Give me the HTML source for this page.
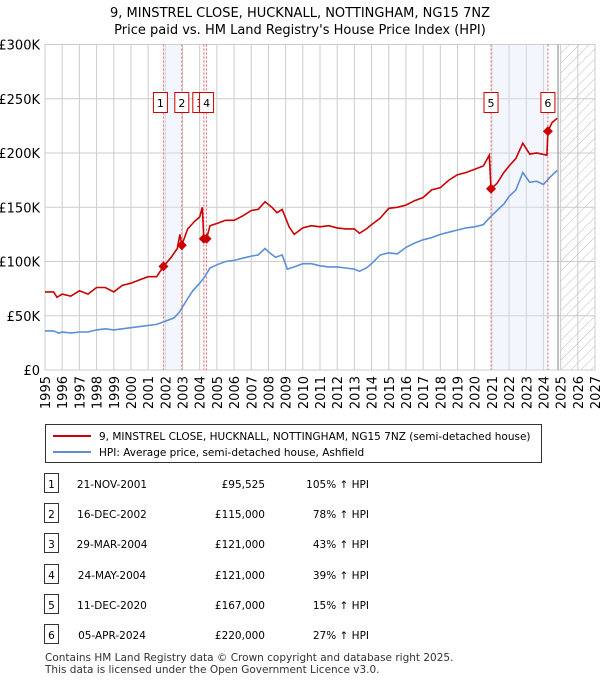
<!DOCTYPE html>
<html><head><meta charset="utf-8">
<style>
body{margin:0;background:#fff;font-family:"Liberation Sans","DejaVu Sans",sans-serif;}
#wrap{position:relative;width:600px;height:680px;overflow:hidden}
svg text{font-family:"DejaVu Sans","Liberation Sans",sans-serif;}
</style></head>
<body>
<div id="wrap">
<svg id="chart" width="600" height="680" viewBox="0 0 600 680">
<defs>
<pattern id="hatch" width="7" height="7" patternUnits="userSpaceOnUse" patternTransform="rotate(45)">
<line x1="0" y1="0" x2="0" y2="7" stroke="#bbb" stroke-width="1"/>
</pattern>
</defs>
<text x="300" y="17" text-anchor="middle" font-size="13">9, MINSTREL CLOSE, HUCKNALL, NOTTINGHAM, NG15 7NZ</text>
<text x="300" y="34" text-anchor="middle" font-size="13">Price paid vs. HM Land Registry's House Price Index (HPI)</text>
<g id="grid"></g>
<g id="shade"></g>
<g id="axes"></g>
<g id="series"></g>
<g id="markers"></g>
<g id="legend">
<rect x="45.5" y="424.5" width="496" height="38" fill="#fff" stroke="#333"/>
<line x1="53" y1="436" x2="91" y2="436" stroke="#cc0000" stroke-width="2"/>
<text x="99" y="440" font-size="10.5">9, MINSTREL CLOSE, HUCKNALL, NOTTINGHAM, NG15 7NZ (semi-detached house)</text>
<line x1="53" y1="452" x2="91" y2="452" stroke="#5b8fd6" stroke-width="2"/>
<text x="99" y="456" font-size="10.5">HPI: Average price, semi-detached house, Ashfield</text>
</g>
<g id="table"></g>
<text x="45" y="661" font-size="10.5" fill="#333">Contains HM Land Registry data © Crown copyright and database right 2025.</text>
<text x="45" y="673" font-size="10.5" fill="#333">This data is licensed under the Open Government Licence v3.0.</text>
</svg>
</div>
<script>
const hpiYears=[1995,1995.5,1995.8,1996,1996.5,1997,1997.5,1998,1998.5,1999,1999.5,2000,2000.5,2001,2001.5,2002,2002.5,2002.8,2003,2003.3,2003.6,2004,2004.3,2004.6,2005,2005.5,2006,2006.5,2007,2007.4,2007.8,2008,2008.4,2008.8,2009.1,2009.5,2010,2010.5,2011,2011.5,2012,2012.5,2013,2013.3,2013.7,2014,2014.5,2015,2015.5,2016,2016.5,2017,2017.5,2018,2018.5,2019,2019.5,2020,2020.5,2020.9,2021.3,2021.7,2022,2022.4,2022.8,2023.2,2023.6,2024,2024.4,2024.8];
const hpiValues=[36,36,34,35,34,35,35,37,38,37,38,39,40,41,42,45,48,53,58,66,73,80,86,94,97,100,101,103,105,106,112,109,104,106,93,95,98,98,96,95,95,94,93,91,94,98,106,108,107,113,117,120,122,125,127,129,131,132,134,141,147,153,160,166,182,173,174,171,178,184];
const priceYears=[1995,1995.5,1995.7,1996,1996.5,1997,1997.5,1998,1998.5,1999,1999.5,2000,2000.5,2001,2001.5,2001.89,2002.3,2002.7,2002.85,2002.96,2003.3,2003.7,2004.0,2004.15,2004.24,2004.4,2004.6,2005,2005.5,2006,2006.5,2007,2007.4,2007.8,2008.2,2008.5,2008.8,2009.2,2009.5,2010,2010.5,2011,2011.5,2012,2012.5,2013,2013.3,2013.7,2014,2014.5,2015,2015.5,2016,2016.5,2017,2017.5,2018,2018.5,2019,2019.5,2020,2020.5,2020.85,2020.95,2021.3,2021.7,2022,2022.4,2022.8,2023.2,2023.6,2024.2,2024.26,2024.5,2024.8];
const priceValues=[72,72,67,70,68,73,70,76,76,72,78,80,83,86,86,95.5,103,112,125,115,130,137,141,150,121,121,133,135,138,138,142,147,148,155,150,145,148,132,125,131,133,132,133,131,130,130,126,130,134,140,149,150,152,156,159,166,168,175,180,182,185,188,198,167,172,182,188,195,209,199,200,198,220,228,232];
const yTicks=[0,50,100,150,200,250,300];
const yTickLabels=["£0","£50K","£100K","£150K","£200K","£250K","£300K"];
const xTicks=[1995,1996,1997,1998,1999,2000,2001,2002,2003,2004,2005,2006,2007,2008,2009,2010,2011,2012,2013,2014,2015,2016,2017,2018,2019,2020,2021,2022,2023,2024,2025,2026,2027];
const saleLabels=["1","2","3","4","5","6"];
const saleYears=[2001.89,2002.96,2004.24,2004.40,2020.95,2024.26];
const salePrices=[95.525,115,121,121,167,220];
const saleDates=["21-NOV-2001","16-DEC-2002","29-MAR-2004","24-MAY-2004","11-DEC-2020","05-APR-2024"];
const salePriceText=["£95,525","£115,000","£121,000","£121,000","£167,000","£220,000"];
const saleHpiText=["105% ↑ HPI","78% ↑ HPI","43% ↑ HPI","39% ↑ HPI","15% ↑ HPI","27% ↑ HPI"];
const shadedPairs=[[0,1],[2,3],[4,5]];

const L=45,R=595,T=44.5,B=370,X0=1995,X1=2027,YMAX=300;
const xs=y=>L+(y-X0)/(X1-X0)*(R-L);
const ys=v=>B-v/YMAX*(B-T);
const NS="http://www.w3.org/2000/svg";
function mk(tag,attrs,parent){const e=document.createElementNS(NS,tag);for(const k in attrs)e.setAttribute(k,attrs[k]);parent.appendChild(e);return e;}
const grid=document.getElementById('grid'),shade=document.getElementById('shade'),axes=document.getElementById('axes'),series=document.getElementById('series'),markers=document.getElementById('markers'),table=document.getElementById('table');

const hatchX=xs(2025);
let hr=mk('rect',{x:hatchX,y:T,width:R-hatchX,height:B-T,fill:'url(#hatch)'},grid);


yTicks.forEach((v,i)=>{
  let l=mk('line',{x1:L,x2:R,y1:ys(v),y2:ys(v),stroke:'#ccc','stroke-width':1},grid);
  
  
  let t=mk('text',{x:L-5,y:ys(v)+5,'text-anchor':'end','font-size':13},axes);
  t.textContent=yTickLabels[i];
  
  
});
xTicks.forEach(y=>{
  let l=mk('line',{x1:xs(y),x2:xs(y),y1:T,y2:B,stroke:'#ccc','stroke-width':1},grid);
  
  
  let t=mk('text',{x:0,y:0,'text-anchor':'end','font-size':13,transform:`translate(${xs(y)+5},${B+6}) rotate(-90)`},axes);
  t.textContent=y;
  
  
});
let dl=mk('line',{x1:xs(2024.85),x2:xs(2024.85),y1:T,y2:B,stroke:'#999','stroke-width':1.2},grid);



shadedPairs.forEach(p=>{
  let r=mk('rect',{x:xs(saleYears[p[0]]),y:T,width:xs(saleYears[p[1]])-xs(saleYears[p[0]]),height:B-T,fill:'#dde6fa','fill-opacity':0.35},shade);
  
  
});
saleYears.forEach((y,i)=>{
  let l=mk('line',{x1:xs(y),x2:xs(y),y1:T,y2:B,stroke:'#f26060','stroke-width':1,'stroke-dasharray':'2,2'},shade);
  
  
});

function path(xa,va){return xa.map((y,i)=>(i?'L':'M')+xs(y).toFixed(1)+','+ys(va[i]).toFixed(1)).join('');}
let hp=mk('path',{d:path(hpiYears,hpiValues),fill:'none',stroke:'#5b8fd6','stroke-width':1.6},series);


let pp=mk('path',{d:path(priceYears,priceValues),fill:'none',stroke:'#cc0000','stroke-width':1.6},series);



const labelOffsets=[-3,0,-4,0,0,0];
saleYears.forEach((y,i)=>{
  const cx=xs(y),cy=ys(salePrices[i]);
  let d=mk('path',{d:`M${cx},${cy-5}L${cx+5},${cy}L${cx},${cy+5}L${cx-5},${cy}Z`,fill:'#cc0000'},markers);
  
  
  const bx=cx+labelOffsets[i]-7;
  let g=mk('g',{},markers);
  
  
  mk('rect',{x:bx,y:92.5,width:14,height:20,fill:'#fff',stroke:'#cc0000','stroke-width':1},g);
  let t=mk('text',{x:bx+7,y:107,'text-anchor':'middle','font-size':11},g);
  t.textContent=saleLabels[i];
});

const rowY=[484,514,544,575,605,635];
saleLabels.forEach((s,i)=>{
  const y=rowY[i];
  let g=mk('g',{},table);
  
  
  mk('rect',{x:44.5,y:y-10.5,width:14,height:19,fill:'#fff',stroke:'#333'},g);
  let n=mk('text',{x:51.5,y:y+4,'text-anchor':'middle','font-size':10.5},g);n.textContent=s;
  let d=mk('text',{x:112,y:y+4,'text-anchor':'middle','font-size':10.5},g);d.textContent=saleDates[i];
  let p=mk('text',{x:265,y:y+4,'text-anchor':'end','font-size':10.5},g);p.textContent=salePriceText[i];
  let h=mk('text',{x:369,y:y+4,'text-anchor':'end','font-size':10.5},g);h.textContent=saleHpiText[i];
});
</script>
</body></html>
